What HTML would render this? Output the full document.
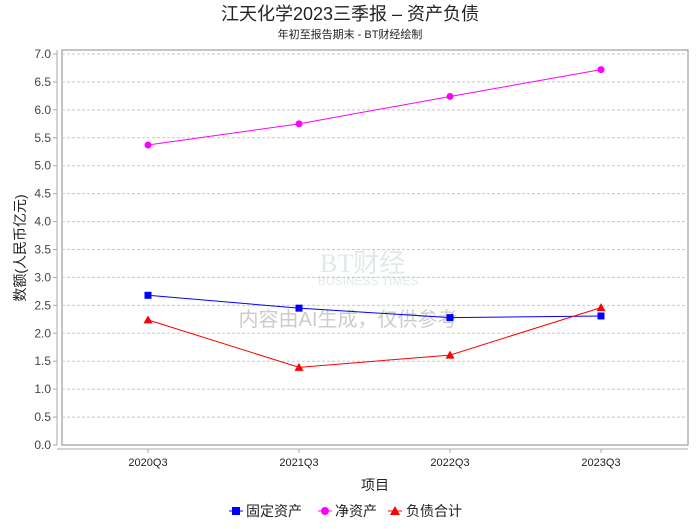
<!DOCTYPE html>
<html><head><meta charset="utf-8"><style>
body{margin:0;background:#fff;font-family:"Liberation Sans","Noto Sans CJK SC",sans-serif}
</style></head><body>
<svg id="c" width="700" height="524" xmlns="http://www.w3.org/2000/svg" font-family="Liberation Sans, Noto Sans CJK SC, sans-serif">
<text x="350" y="20" text-anchor="middle" font-size="18" fill="#222">江天化学2023三季报 – 资产负债</text>
<text x="350" y="38" text-anchor="middle" font-size="11" fill="#222">年初至报告期末 - BT财经绘制</text>
<rect x="62" y="50" width="626" height="395" fill="#fff" stroke="#888"/>
<g id="grid"></g>
<g opacity="0.25">
<text x="320" y="272" font-size="26" fill="#8aa" font-family="Liberation Serif, serif">BT财经</text>
<text x="318" y="285" font-size="12" fill="#8aa">BUSINESS TIMES</text>
</g>
<text x="348" y="326" text-anchor="middle" font-size="20" fill="#ccc">内容由AI生成，仅供参考</text>
<line x1="57" y1="449" x2="688" y2="449" stroke="#aaa"/>
<line x1="57" y1="50" x2="57" y2="445" stroke="#aaa"/>
<g id="axes"></g>
<g id="series"></g>
<text x="375" y="490" text-anchor="middle" font-size="14" fill="#222">项目</text>
<text transform="translate(25,248) rotate(-90)" text-anchor="middle" font-size="14" fill="#222">数额(人民币亿元)</text>
<g font-size="14" fill="#222">
<g><line x1="229" y1="511" x2="243" y2="511" stroke="#00f"/><rect x="232" y="507" width="8" height="8" fill="#00f"/><text x="246" y="516">固定资产</text></g>
<g><line x1="318" y1="511" x2="332" y2="511" stroke="#f0f"/><circle cx="325" cy="511" r="4" fill="#f0f"/><text x="335" y="516">净资产</text></g>
<g><line x1="388" y1="511" x2="402" y2="511" stroke="#f00"/><path d="M395,506 L400,515 L390,515Z" fill="#f00"/><text x="406" y="516">负债合计</text></g>
</g>
</svg>
<script>
const categories=["2020Q3","2021Q3","2022Q3","2023Q3"];
const fixedAssets=[2.68,2.45,2.28,2.31];
const netAssets=[5.37,5.75,6.24,6.72];
const totalLiabilities=[2.24,1.39,1.61,2.46];
const yTicks=[0,0.5,1,1.5,2,2.5,3,3.5,4,4.5,5,5.5,6,6.5,7];
const NS="http://www.w3.org/2000/svg";
const xS=i=>148+i*151;
const yS=v=>445-v*(391/7);
function mk(t,a,p){const e=document.createElementNS(NS,t);for(const k in a)e.setAttribute(k,a[k]);p.appendChild(e);return e;}
const grid=document.getElementById('grid'),axes=document.getElementById('axes'),ser=document.getElementById('series');
yTicks.forEach(v=>{
 const y=yS(v);
 if(v>0){const g=mk('line',{x1:62,x2:688,y1:y,y2:y,stroke:'#c8c8c8','stroke-dasharray':'3,2'},grid);
 
 }
 mk('line',{x1:53,x2:57,y1:y,y2:y,stroke:'#aaa'},axes);
 const t=mk('text',{x:51,y:y+4,'text-anchor':'end','font-size':12,fill:'#444'},axes);t.textContent=v.toFixed(1);
 
 
});
categories.forEach((c,i)=>{
 mk('line',{x1:xS(i),x2:xS(i),y1:449,y2:453,stroke:'#aaa'},axes);
 const t=mk('text',{x:xS(i),y:466,'text-anchor':'middle','font-size':11,fill:'#222'},axes);t.textContent=c;
 
 
});
function series(vals,color,shape,name){
 const pl=mk('polyline',{points:vals.map((v,i)=>xS(i)+','+yS(v)).join(' '),fill:'none',stroke:color,'stroke-width':1},ser);
 
 
 vals.forEach((v,i)=>{
  const x=xS(i),y=yS(v);let m;
  if(shape==='s')m=mk('rect',{x:x-3.5,y:y-3.5,width:7,height:7,fill:color},ser);
  else if(shape==='c')m=mk('circle',{cx:x,cy:y,r:3.5,fill:color},ser);
  else m=mk('path',{d:`M${x},${y-4.5} L${x+4.5},${y+3.5} L${x-4.5},${y+3.5}Z`,fill:color},ser);
  
  
 });
}
series(netAssets,'#f0f','c','net-assets');
series(fixedAssets,'#00f','s','fixed-assets');
series(totalLiabilities,'#f00','t','total-liabilities');
</script>
</body></html>
